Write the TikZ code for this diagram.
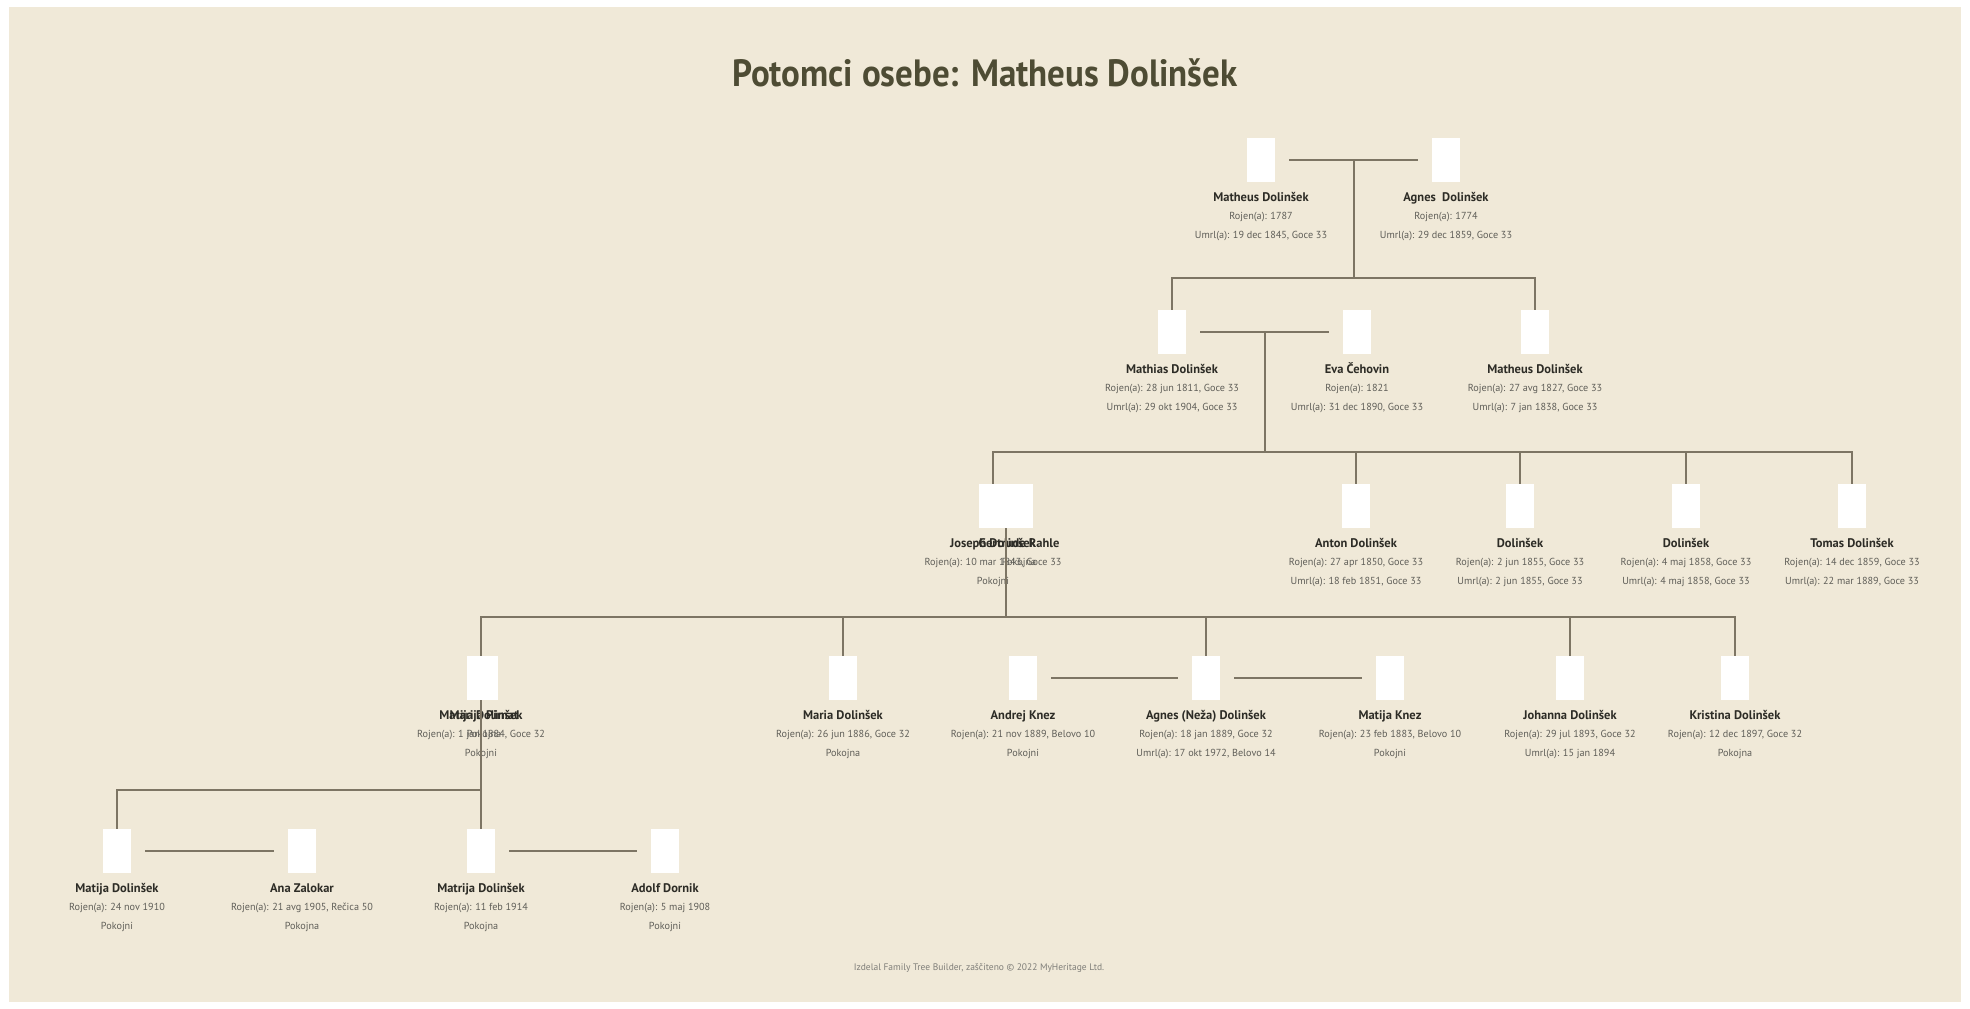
\documentclass[tikz,border=0pt]{standalone}
\usepackage{fontspec}
\usepackage{graphicx}
\setmainfont{PT Sans}
\usetikzlibrary{calc,positioning}

\definecolor{bgbeige}{RGB}{240,233,216}
\definecolor{titlecol}{RGB}{78,76,52}
\definecolor{linecol}{RGB}{125,117,100}
\definecolor{namecol}{RGB}{45,44,38}
\definecolor{infocol}{RGB}{95,94,88}

% one person: photo box and three lines of text under it
\newcommand{\person}[6]{%
  \node[photo] (#1) at (#2,#3) {};
  \node[pname] (#1n) at ($(#1)+(0,41)$) {#4};
  \node[pinfo] (#1a) at ($(#1)+(0,59)$) {#5};
  \node[pinfo] (#1b) at ($(#1)+(0,78)$) {#6};
}

\begin{document}
\begin{tikzpicture}[x=1pt,y=-1pt,
  photo/.style={fill=white, minimum width=28pt, minimum height=44pt, inner sep=0pt},
  pname/.style={anchor=base, inner sep=0pt, text=namecol, font=\bfseries\fontsize{12.5}{14}\selectfont},
  pinfo/.style={anchor=base, inner sep=0pt, text=infocol, font=\fontsize{10.2}{12}\selectfont},
  tie/.style={draw=linecol, line width=2pt},
  wed/.style={tie, shorten <=14pt, shorten >=14pt}]

\fill[white] (0,0) rectangle (1970,1009);
\fill[bgbeige] (9,7) rectangle (1961,1002);
\useasboundingbox (0,0) rectangle (1970,1009);

\node[text=titlecol, font=\bfseries\fontsize{38}{40}\selectfont] (title) at (985,73) {\scalebox{0.92}[1]{Potomci osebe: Matheus Dolinšek}};

% generation 1
\person{mat1}{1261}{160}{Matheus Dolinšek}{Rojen(a): 1787}{Umrl(a): 19 dec 1845, Goce 33}
\person{agn1}{1446}{160}{Agnes \ Dolinšek}{Rojen(a): 1774}{Umrl(a): 29 dec 1859, Goce 33}

% generation 2
\person{mts2}{1172}{332}{Mathias Dolinšek}{Rojen(a): 28 jun 1811, Goce 33}{Umrl(a): 29 okt 1904, Goce 33}
\person{eva2}{1357}{332}{Eva Čehovin}{Rojen(a): 1821}{Umrl(a): 31 dec 1890, Goce 33}
\person{mat2}{1535}{332}{Matheus Dolinšek}{Rojen(a): 27 avg 1827, Goce 33}{Umrl(a): 7 jan 1838, Goce 33}

% generation 3
\person{jos3}{993}{506}{Joseph Dolinšek}{Rojen(a): 10 mar 1843, Goce 33}{Pokojni}
\person{gert3}{1019}{506}{Gertrude Rahle}{Pokojna}{}
\person{ant3}{1356}{506}{Anton Dolinšek}{Rojen(a): 27 apr 1850, Goce 33}{Umrl(a): 18 feb 1851, Goce 33}
\person{dol3}{1520}{506}{Dolinšek}{Rojen(a): 2 jun 1855, Goce 33}{Umrl(a): 2 jun 1855, Goce 33}
\person{dlk3}{1686}{506}{Dolinšek}{Rojen(a): 4 maj 1858, Goce 33}{Umrl(a): 4 maj 1858, Goce 33}
\person{tom3}{1852}{506}{Tomas Dolinšek}{Rojen(a): 14 dec 1859, Goce 33}{Umrl(a): 22 mar 1889, Goce 33}

% generation 4
\person{mtj4}{481}{678}{Matija Dolinšek}{Rojen(a): 1 jan 1884, Goce 32}{Pokojni}
\person{mar4}{484}{678}{Marija Pirnat}{Pokojna}{}
\person{mra4}{843}{678}{Maria Dolinšek}{Rojen(a): 26 jun 1886, Goce 32}{Pokojna}
\person{and4}{1023}{678}{Andrej Knez}{Rojen(a): 21 nov 1889, Belovo 10}{Pokojni}
\person{agn4}{1206}{678}{Agnes (Neža) Dolinšek}{Rojen(a): 18 jan 1889, Goce 32}{Umrl(a): 17 okt 1972, Belovo 14}
\person{knz4}{1390}{678}{Matija Knez}{Rojen(a): 23 feb 1883, Belovo 10}{Pokojni}
\person{joh4}{1570}{678}{Johanna Dolinšek}{Rojen(a): 29 jul 1893, Goce 32}{Umrl(a): 15 jan 1894}
\person{kri4}{1735}{678}{Kristina Dolinšek}{Rojen(a): 12 dec 1897, Goce 32}{Pokojna}

% generation 5
\person{mtj5}{117}{851}{Matija Dolinšek}{Rojen(a): 24 nov 1910}{Pokojni}
\person{ana5}{302}{851}{Ana Zalokar}{Rojen(a): 21 avg 1905, Rečica 50}{Pokojna}
\person{mtr5}{481}{851}{Matrija Dolinšek}{Rojen(a): 11 feb 1914}{Pokojna}
\person{ado5}{665}{851}{Adolf Dornik}{Rojen(a): 5 maj 1908}{Pokojni}

% couples
\draw[wed] (mat1) -- (agn1);
\draw[wed] (mts2) -- (eva2);
\draw[wed] (and4) -- (agn4);
\draw[wed] (agn4) -- (knz4);
\draw[wed] (mtj5) -- (ana5);
\draw[wed] (mtr5) -- (ado5);

\coordinate (c1) at ($(mat1)!0.5!(agn1)$);
\coordinate (c2) at ($(mts2)!0.5!(eva2)$);
\coordinate (c3) at ($(jos3.south)!0.5!(gert3.south)$);
\coordinate (c4) at (mtj4.south);

% children
\draw[tie] (c1) -- (c1 |- 0,278);
\draw[tie] (mts2.north) -- (mts2.north |- 0,278) -| (mat2.north);

\draw[tie] (c2) -- (c2 |- 0,452);
\draw[tie] (jos3.north) -- (jos3.north |- 0,452) -| (tom3.north);
\draw[tie] (ant3.north) -- (ant3.north |- 0,452);
\draw[tie] (dol3.north) -- (dol3.north |- 0,452);
\draw[tie] (dlk3.north) -- (dlk3.north |- 0,452);

\draw[tie] (c3) -- (c3 |- 0,617);
\draw[tie] (mtj4.north) -- (mtj4.north |- 0,617) -| (kri4.north);
\draw[tie] (mra4.north) -- (mra4.north |- 0,617);
\draw[tie] (agn4.north) -- (agn4.north |- 0,617);
\draw[tie] (joh4.north) -- (joh4.north |- 0,617);

\draw[tie] (c4) -- (c4 |- 0,790);
\draw[tie] (mtj5.north) -- (mtj5.north |- 0,790) -| (mtr5.north);

\node[text=infocol!80, font=\fontsize{9.5}{11}\selectfont] (foot) at (979,968) {Izdelal Family Tree Builder, zaščiteno © 2022 MyHeritage Ltd.};
\end{tikzpicture}
\end{document}
